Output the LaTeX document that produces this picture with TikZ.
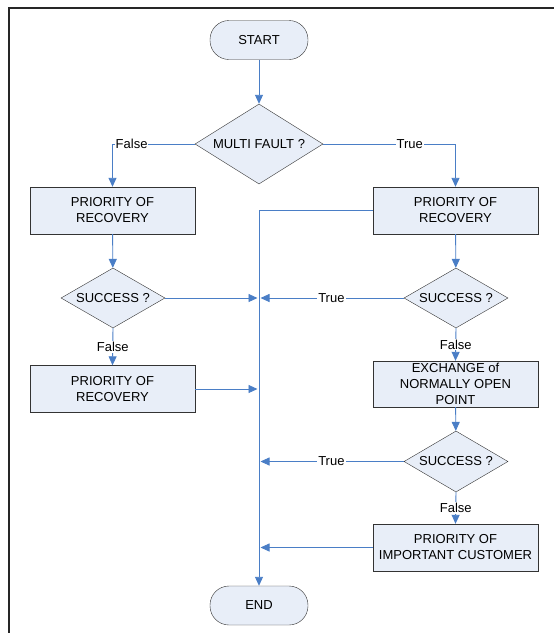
\documentclass[tikz,border=0pt]{standalone}
\usepackage{fontspec}
\setmainfont{Liberation Sans}
\usepackage{tikz}
\usetikzlibrary{arrows.meta,shapes.geometric}

\definecolor{boxfill}{HTML}{E8EEF8}
\definecolor{flowblue}{HTML}{4A7EC6}
\definecolor{edgegray}{HTML}{333333}

\begin{document}
\begin{tikzpicture}[
        x=1pt, y=-1pt,
        font=\fontsize{13}{16}\selectfont,
        block/.style={
            draw=edgegray,
            fill=boxfill,
            minimum width=165pt,
            minimum height=47pt,
            inner sep=1pt,
            align=center
        },
        decision/.style={
            draw=edgegray,
            fill=boxfill,
            diamond,
            inner sep=0pt,
            align=center
        },
        terminal/.style={
            draw=edgegray,
            fill=boxfill,
            rounded corners=19pt,
            minimum width=98pt,
            minimum height=39pt
        },
        arrow/.style={-{Triangle[length=9pt,width=8pt]}, flowblue, line width=0.9pt},
        answer/.style={fill=white, inner sep=1pt, text=black}
    ]

    \useasboundingbox (0,0) rectangle (554,633);
    \draw[black!85, line width=2pt] (554,7.5) -- (8.5,7.5) -- (8.5,633);

    \node[terminal] (start) at (259,40) {START};

    \node[decision, aspect=1.6, minimum width=128pt, minimum height=80pt] (mfault) at (259,144) {MULTI FAULT ?};

    \node[block] (lrec1) at (112.5,210.5) {PRIORITY OF\\RECOVERY};
    \node[block] (rrec1) at (455.5,210.5) {PRIORITY OF\\RECOVERY};

    \node[decision, aspect=1.73, minimum width=104pt, minimum height=60pt] (lsucc) at (113,298) {SUCCESS ?};
    \node[decision, aspect=1.73, minimum width=104pt, minimum height=60pt] (rsucc1) at (456,298) {SUCCESS ?};

    \node[block] (lrec2) at (112.5,389) {PRIORITY OF\\RECOVERY};
    \node[block, minimum height=46pt] (exch) at (455.5,384) {EXCHANGE of\\NORMALLY OPEN\\POINT};

    \node[decision, aspect=1.7, minimum width=104pt, minimum height=61pt] (rsucc2) at (456,461.5) {SUCCESS ?};

    \node[block] (cust) at (455.5,547.5) {PRIORITY OF\\IMPORTANT CUSTOMER};

    \node[terminal] (endn) at (259,605.5) {END};

    % points where the branches meet the common line
    \coordinate (j1) at (lsucc.east -| endn.north);
    \coordinate (j2) at (lrec2.east -| endn.north);
    \coordinate (j3) at (rsucc2.west -| endn.north);
    \coordinate (j4) at (cust.west -| endn.north);

    \draw[arrow] (start) -- (mfault);
    \draw[arrow] (mfault.west) -| node[answer, pos=0.384] {False} (lrec1.north);
    \draw[arrow] (mfault.east) -| node[answer, pos=0.327] {True} (rrec1.north);

    \draw[arrow] (lrec1) -- (lsucc);
    \draw[arrow] (rrec1) -- (rsucc1);
    \draw[arrow] (rrec1.west) -| (endn.north);

    \draw[arrow, shorten >=1.5pt] (lsucc.east) -- (j1);
    \draw[arrow, shorten >=1.5pt] (rsucc1.west) -- node[answer] {True} (j1);
    \draw[arrow] (lsucc.south) -- node[answer] {False} (lrec2.north);
    \draw[arrow, shorten >=1.5pt] (lrec2.east) -- (j2);

    \draw[arrow] (rsucc1.south) -- node[answer] {False} (exch.north);
    \draw[arrow] (exch) -- (rsucc2);
    \draw[arrow, shorten >=1.5pt] (rsucc2.west) -- node[answer] {True} (j3);
    \draw[arrow] (rsucc2.south) -- node[answer] {False} (cust.north);
    \draw[arrow, shorten >=1.5pt] (cust.west) -- (j4);

    \end{tikzpicture}
\end{document}
